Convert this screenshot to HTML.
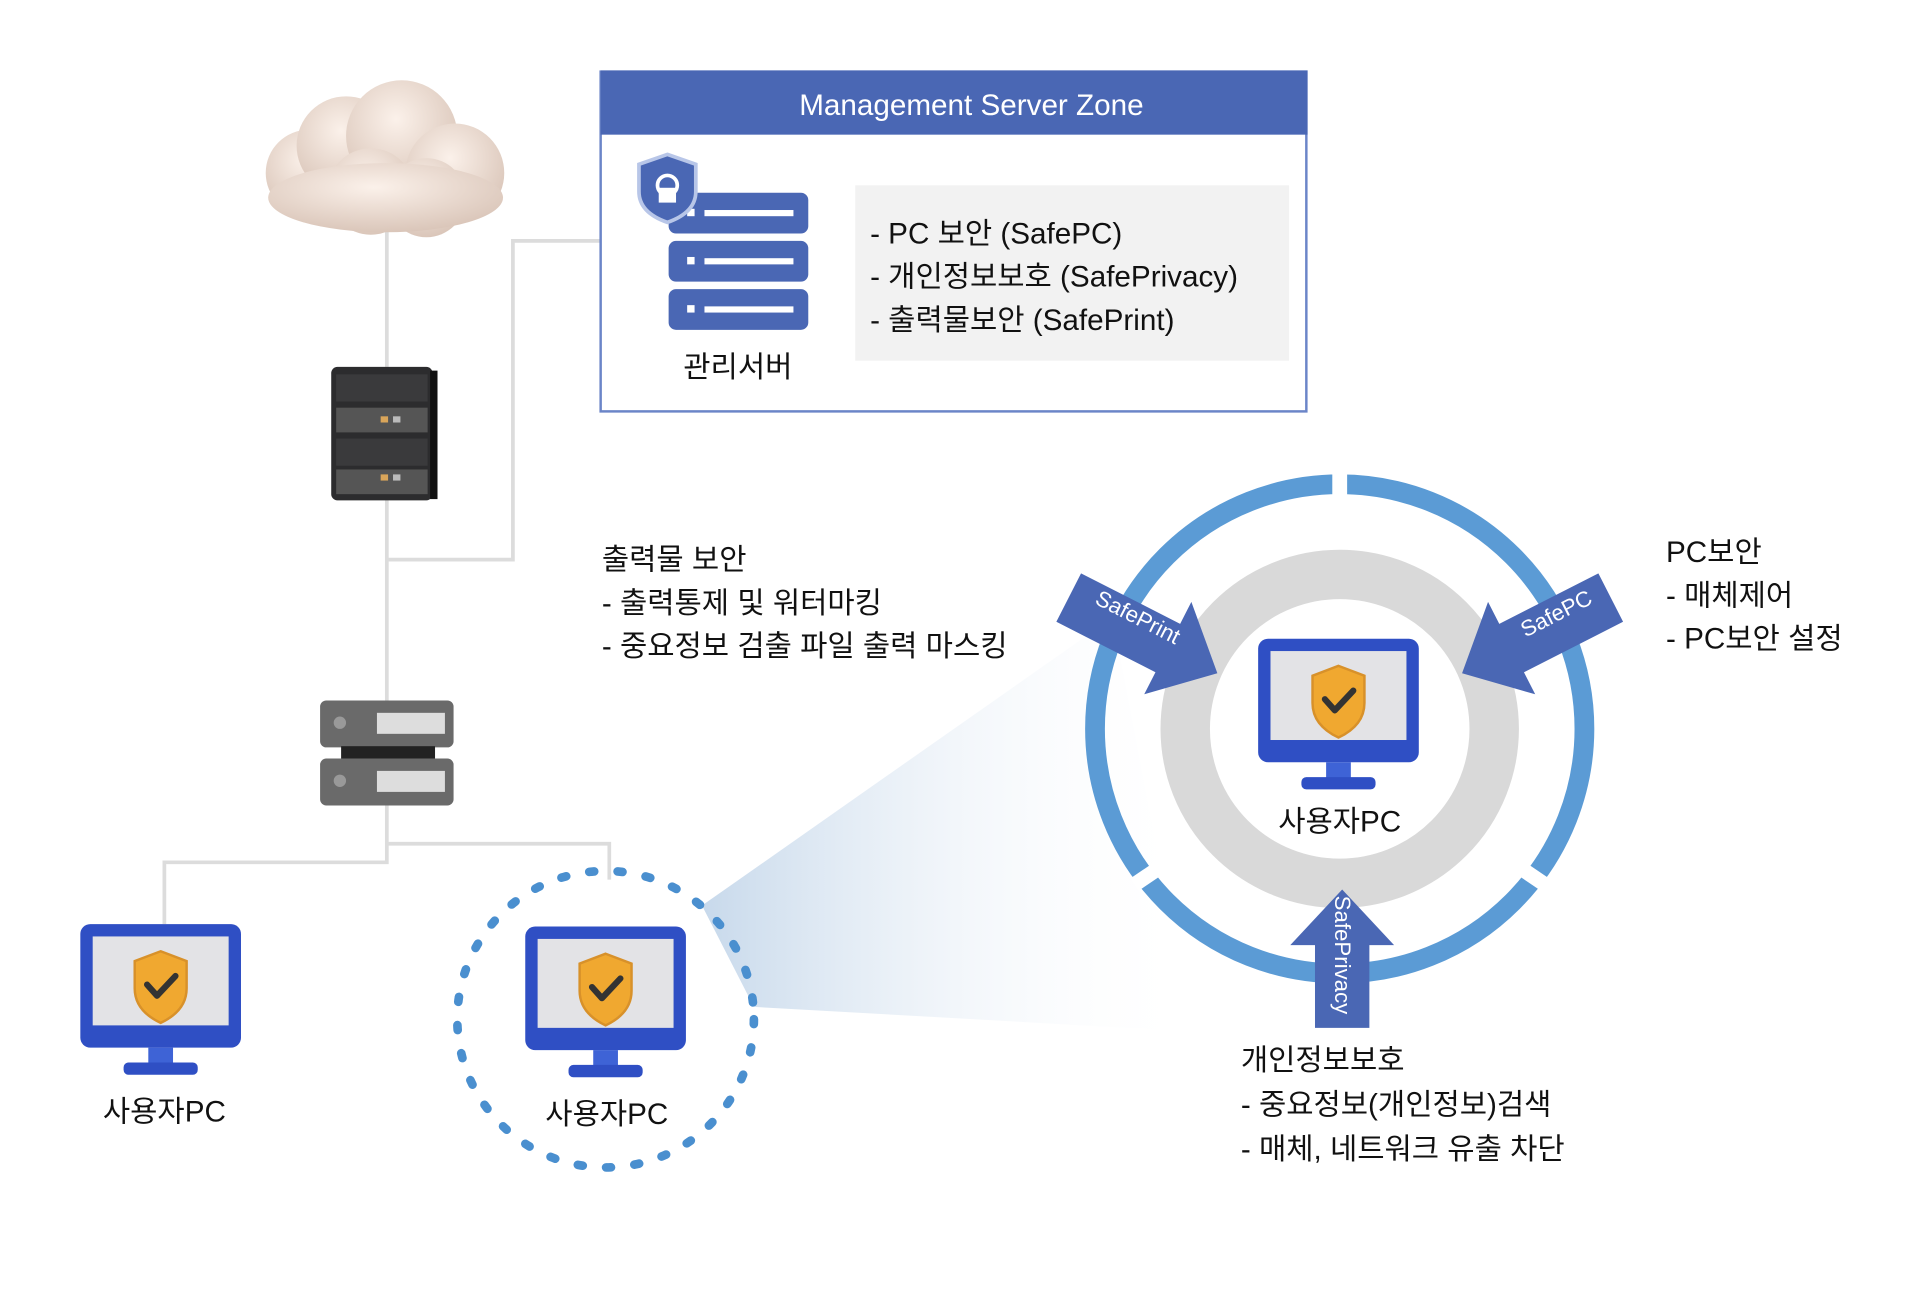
<!DOCTYPE html>
<html><head><meta charset="utf-8"><style>
html,body{margin:0;padding:0;background:#fff;width:1928px;height:1291px;overflow:hidden}
svg{display:block}
text{font-family:"Liberation Sans","Noto Sans CJK KR",sans-serif;fill:#111}
</style></head><body>
<svg width="1928" height="1291" viewBox="0 0 1560 1045" preserveAspectRatio="none">
<defs>
<linearGradient id="beam" x1="0" y1="0" x2="1" y2="0">
<stop offset="0" stop-color="#b9cfe6"/><stop offset="1" stop-color="#ffffff" stop-opacity="0"/>
</linearGradient>
<radialGradient id="cl" cx="0.45" cy="0.35" r="0.7">
<stop offset="0" stop-color="#fbf1ea"/><stop offset="1" stop-color="#d8c3b6"/>
</radialGradient>
<g id="mon">
<rect x="0" y="0" width="130" height="100" rx="8" fill="#2f4fc4"/>
<rect x="10" y="10" width="110" height="72" fill="#e3e3e6"/>
<rect x="55" y="100" width="20" height="14" fill="#3e63d6"/>
<rect x="35" y="112" width="60" height="10" rx="4" fill="#2f4fc4"/>
<path d="M65 22 L86 30 L86 52 Q86 70 65 80 Q44 70 44 52 L44 30 Z" fill="#f0a830" stroke="#d8912a" stroke-width="2"/>
<path d="M54 49 L62 58 L77 42" fill="none" stroke="#333" stroke-width="5" stroke-linecap="round" stroke-linejoin="round"/>
</g>
</defs>

<g fill="none" stroke="#dcdcdc" stroke-width="3">
<path d="M313 180 L313 698 L133 698 L133 748"/>
<path d="M313 453 L415 453 L415 195 L487 195"/>
<path d="M313 683 L493 683 L493 712"/>
</g>

<g fill="url(#cl)">
<circle cx="250" cy="140" r="35"/><circle cx="280" cy="118" r="40"/><circle cx="325" cy="110" r="45"/>
<circle cx="368" cy="140" r="40"/><circle cx="300" cy="155" r="35"/><circle cx="345" cy="160" r="32"/>
<ellipse cx="312" cy="160" rx="95" ry="28"/>
</g>

<rect x="268" y="297" width="82" height="108" rx="5" fill="#2c2c2e"/>
<rect x="348" y="300" width="6" height="104" fill="#111"/>
<rect x="272" y="303" width="74" height="22" fill="#3a3a3c"/>
<rect x="272" y="330" width="74" height="20" fill="#555"/>
<rect x="272" y="355" width="74" height="22" fill="#3a3a3c"/>
<rect x="272" y="380" width="74" height="20" fill="#555"/>
<rect x="308" y="337" width="6" height="5" fill="#d9a55a"/><rect x="318" y="337" width="6" height="5" fill="#bbb"/>
<rect x="308" y="384" width="6" height="5" fill="#d9a55a"/><rect x="318" y="384" width="6" height="5" fill="#bbb"/>

<rect x="259" y="567" width="108" height="38" rx="5" fill="#6a6a6a"/>
<rect x="276" y="604" width="76" height="12" fill="#222"/>
<rect x="259" y="614" width="108" height="38" rx="5" fill="#6a6a6a"/>
<rect x="305" y="577" width="55" height="17" fill="#ddd"/><rect x="305" y="624" width="55" height="17" fill="#ddd"/>
<circle cx="275" cy="585" r="5" fill="#999"/><circle cx="275" cy="632" r="5" fill="#999"/>

<rect x="486" y="58" width="571" height="275" fill="#fff" stroke="#6b85c8" stroke-width="2"/>
<rect x="486" y="57" width="572" height="52" fill="#4a67b4"/>
<text x="786" y="93" text-anchor="middle" font-size="24" style="fill:#fff">Management Server Zone</text>
<rect x="692" y="150" width="351" height="142" fill="#f2f2f2"/>
<text font-size="24"><tspan x="704" y="197">- PC 보안 (SafePC)</tspan><tspan x="704" y="232">- 개인정보보호 (SafePrivacy)</tspan><tspan x="704" y="267">- 출력물보안 (SafePrint)</tspan></text>
<g fill="#4a67b4">
<rect x="541" y="156" width="113" height="33" rx="6"/><rect x="541" y="195" width="113" height="33" rx="6"/><rect x="541" y="234" width="113" height="33" rx="6"/>
</g>
<g fill="#fff"><rect x="570" y="170" width="72" height="5"/><rect x="570" y="209" width="72" height="5"/><rect x="570" y="248" width="72" height="5"/>
<rect x="556" y="169" width="6" height="6"/><rect x="556" y="208" width="6" height="6"/><rect x="556" y="247" width="6" height="6"/></g>
<path d="M540 125 L563 133 L563 155 Q563 172 540 180 Q517 172 517 155 L517 133 Z" fill="#4a67b4" stroke="#b8c6e8" stroke-width="3"/>
<circle cx="540" cy="150" r="8" fill="none" stroke="#fff" stroke-width="3"/><rect x="533" y="152" width="14" height="12" fill="#fff"/>
<text x="597" y="305" text-anchor="middle" font-size="24">관리서버</text>

<polygon points="568,733 900,500 965,835 610,815" fill="url(#beam)" opacity="0.8"/>

<use href="#mon" x="65" y="748"/>
<text x="133" y="908" text-anchor="middle" font-size="24">사용자PC</text>
<circle cx="490" cy="825" r="120" fill="none" stroke="#4a8fcf" stroke-width="7" stroke-dasharray="4 19" stroke-linecap="round"/>
<use href="#mon" x="425" y="750"/>
<text x="491" y="910" text-anchor="middle" font-size="24">사용자PC</text>

<circle cx="1084" cy="590" r="198" fill="none" stroke="#5b9bd5" stroke-width="16"/>
<g stroke="#fff" stroke-width="12">
<line x1="1084" y1="380" x2="1084" y2="410"/>
<line x1="918" y1="716" x2="946" y2="697"/>
<line x1="1250" y1="716" x2="1222" y2="697"/>
</g>
<circle cx="1084" cy="590" r="125" fill="none" stroke="#d9d9d9" stroke-width="40"/>

<use href="#mon" x="1018" y="517"/>
<text x="1084" y="673" text-anchor="middle" font-size="24">사용자PC</text>

<g fill="#4a67b4">
<g transform="translate(985,545) rotate(27)"><polygon points="0,0 -45,-42 -45,-22 -135,-22 -135,22 -45,22 -45,42"/></g>
<g transform="translate(1183,545) rotate(153)"><polygon points="0,0 -45,-42 -45,-22 -135,-22 -135,22 -45,22 -45,42"/></g>
<g transform="translate(1086,720) rotate(-90)"><polygon points="0,0 -45,-42 -45,-22 -112,-22 -112,22 -45,22 -45,42"/></g>
</g>
<text transform="translate(918,505) rotate(27)" text-anchor="middle" font-size="18" style="fill:#fff">SafePrint</text>
<text transform="translate(1262,502) rotate(-27)" text-anchor="middle" font-size="18" style="fill:#fff">SafePC</text>
<text transform="translate(1080,773) rotate(90)" text-anchor="middle" font-size="18" style="fill:#fff">SafePrivacy</text>

<text font-size="24"><tspan x="487" y="461">출력물 보안</tspan><tspan x="487" y="496">- 출력통제 및 워터마킹</tspan><tspan x="487" y="531">- 중요정보 검출 파일 출력 마스킹</tspan></text>
<text font-size="24"><tspan x="1348" y="455">PC보안</tspan><tspan x="1348" y="490">- 매체제어</tspan><tspan x="1348" y="525">- PC보안 설정</tspan></text>
<text font-size="24"><tspan x="1004" y="866">개인정보보호</tspan><tspan x="1004" y="902">- 중요정보(개인정보)검색</tspan><tspan x="1004" y="938">- 매체, 네트워크 유출 차단</tspan></text>
</svg>
</body></html>
